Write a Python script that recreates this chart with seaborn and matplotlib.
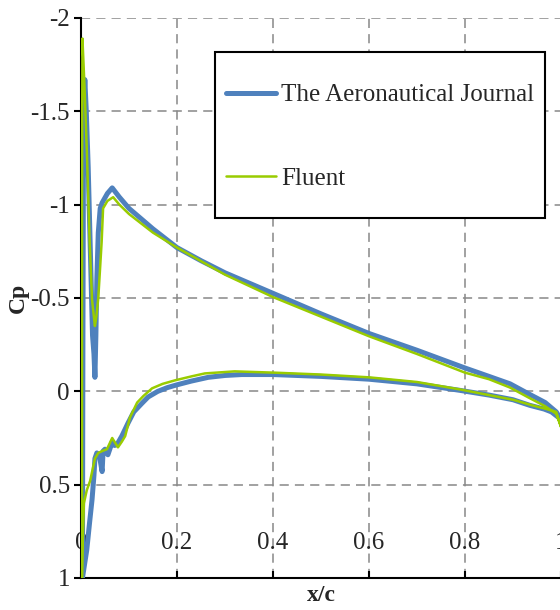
import matplotlib
matplotlib.use("Agg")
import matplotlib.pyplot as plt
from matplotlib.patches import Rectangle
import seaborn as sns
import pandas as pd

# Aeronautical Journal data: upper surface TE -> LE, then lower surface LE -> TE
journal_x = [1.0, 0.99, 0.967, 0.93, 0.894, 0.85, 0.8, 0.7, 0.6, 0.5, 0.4, 0.3, 0.25, 0.2,
             0.15, 0.1, 0.08, 0.065, 0.055, 0.044, 0.04, 0.036, 0.033, 0.031, 0.029, 0.027,
             0.024, 0.02, 0.015, 0.011, 0.008, 0.006, 0.005, 0.004, 0.003,
             0.006, 0.012, 0.018, 0.023, 0.027, 0.029, 0.033, 0.038, 0.042, 0.044, 0.046,
             0.05, 0.056, 0.06, 0.065, 0.07, 0.075, 0.085, 0.098, 0.11, 0.127, 0.14, 0.16,
             0.18, 0.2, 0.23, 0.265, 0.3, 0.335, 0.4, 0.5, 0.6, 0.7, 0.79, 0.85, 0.9, 0.935,
             0.965, 0.98, 1.0]
journal_cp = [0.15, 0.11, 0.06, 0.01, -0.04, -0.08, -0.125, -0.22, -0.31, -0.415, -0.525, -0.635, -0.70, -0.77,
              -0.87, -0.98, -1.04, -1.09, -1.06, -1.01, -0.98, -0.85, -0.6, -0.3, -0.075, -0.2,
              -0.3, -0.7, -1.2, -1.5, -1.67, -1.55, -1.2, -0.3, 1.0,
              0.95, 0.85, 0.7, 0.58, 0.45, 0.36, 0.33, 0.34, 0.4, 0.43, 0.32,
              0.31, 0.34, 0.31, 0.27, 0.29, 0.285, 0.24, 0.17, 0.11, 0.064, 0.03, 0.0,
              -0.02, -0.035, -0.055, -0.075, -0.085, -0.09, -0.09, -0.08, -0.065, -0.04, -0.005, 0.02, 0.045, 0.075,
              0.095, 0.11, 0.15]

# Fluent data: same ordering
fluent_x = [1.0, 0.99, 0.967, 0.93, 0.894, 0.85, 0.8, 0.7, 0.6, 0.5, 0.4, 0.3, 0.2, 0.15,
            0.1, 0.08, 0.067, 0.055, 0.046, 0.043, 0.04, 0.036, 0.032, 0.029, 0.026, 0.023,
            0.018, 0.012, 0.007, 0.003, 0.002, 0.002,
            0.003, 0.006, 0.012, 0.019, 0.029, 0.036, 0.044, 0.054, 0.065, 0.077, 0.085,
            0.092, 0.102, 0.117, 0.13, 0.148, 0.17, 0.196, 0.23, 0.258, 0.32, 0.404, 0.5,
            0.6, 0.7, 0.79, 0.85, 0.9, 0.94, 0.97, 0.99, 1.0]
fluent_cp = [0.19, 0.12, 0.08, 0.03, -0.02, -0.065, -0.1, -0.2, -0.295, -0.4, -0.505, -0.625, -0.77, -0.85,
             -0.95, -1.0, -1.04, -1.02, -0.98, -0.8, -0.67, -0.5, -0.4, -0.35, -0.42, -0.49,
             -0.8, -1.3, -1.65, -1.89, -1.0, 1.0,
             0.85, 0.6, 0.53, 0.48, 0.36, 0.33, 0.32, 0.31, 0.25, 0.3, 0.27,
             0.24, 0.14, 0.06, 0.025, -0.016, -0.04, -0.059, -0.08, -0.096, -0.107, -0.1, -0.09,
             -0.075, -0.05, -0.01, 0.02, 0.045, 0.075, 0.095, 0.11, 0.19]

x_ticks = [0, 0.2, 0.4, 0.6, 0.8, 1]
x_ticklabels = ["0", "0.2", "0.4", "0.6", "0.8", "1"]
y_ticks = [-2, -1.5, -1, -0.5, 0, 0.5, 1]
y_ticklabels = ["-2", "-1.5", "-1", "-0.5", "0", "0.5", "1"]

sns.set_style("white")
plt.rcParams['font.family'] = ['Liberation Serif', 'DejaVu Serif']

journal = pd.DataFrame({'x': journal_x, 'Cp': journal_cp})
fluent = pd.DataFrame({'x': fluent_x, 'Cp': fluent_cp})

fig = plt.figure(figsize=(5.6, 6.1), dpi=100)
ax = fig.add_axes([81 / 560, 32 / 610, 480 / 560, 560 / 610])

sns.lineplot(data=journal, x='x', y='Cp', sort=False, estimator=None, ax=ax,
             color='#4F81BD', linewidth=3.6, label='The Aeronautical Journal',
             solid_capstyle='round', zorder=3)
sns.lineplot(data=fluent, x='x', y='Cp', sort=False, estimator=None, ax=ax,
             color='#99CC00', linewidth=1.8, label='Fluent', zorder=4)

ax.set_xlim(0, 1)
ax.set_ylim(1, -2)
ax.set_xticks(x_ticks)
ax.set_xticklabels(x_ticklabels)
ax.set_yticks(y_ticks)
ax.set_yticklabels(y_ticklabels)

ax.grid(True, color='#888888', linestyle=(0, (6, 4)), linewidth=1.1)
ax.set_axisbelow(True)

for side in ['top', 'right']:
    ax.spines[side].set_visible(False)
for side in ['left', 'bottom']:
    ax.spines[side].set_color('black')
    ax.spines[side].set_linewidth(1.5)

ax.tick_params(axis='y', direction='out', length=5, width=1.5, color='black',
               labelsize=18, pad=3, left=True)
ax.tick_params(axis='x', direction='in', length=5, width=1.5, color='black',
               labelsize=18, pad=-33, bottom=True)

ax.set_xlabel('x/c', fontsize=17, fontweight='bold', labelpad=5)
ax.set_ylabel('Cp', fontsize=17, fontweight='bold', labelpad=1)

# legend box drawn as a plain rectangle, entries placed inside it
box = Rectangle((215 / 560, 1 - 218 / 610), 330 / 560, 166 / 610,
                transform=fig.transFigure, facecolor='white', edgecolor='black',
                linewidth=1.5, zorder=5, clip_on=False)
ax.add_patch(box)
leg = ax.legend(loc='center left', bbox_to_anchor=(226 / 560, 1 - 137 / 610),
                bbox_transform=fig.transFigure, fontsize=18, frameon=False,
                borderpad=0, labelspacing=2.45, handlelength=2.0,
                handletextpad=0.2, borderaxespad=0)
leg.set_zorder(6)

fig.savefig('out.png', dpi=100)
